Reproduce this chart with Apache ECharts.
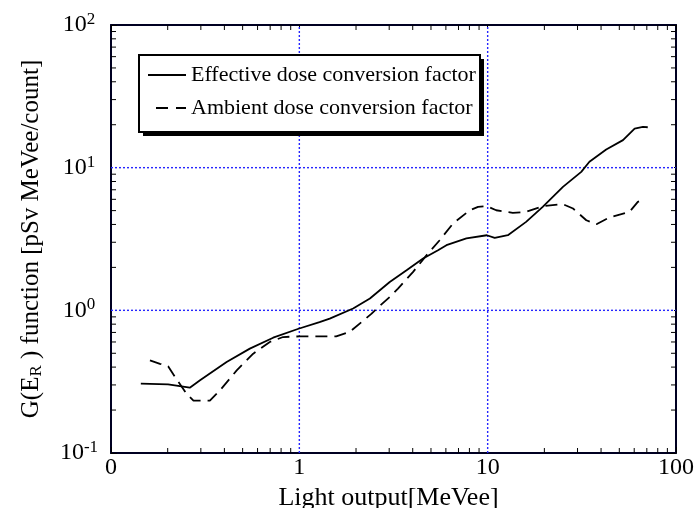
<!DOCTYPE html>
<html><head><meta charset="utf-8">
<script src="https://cdn.jsdelivr.net/npm/echarts@6/dist/echarts.min.js"></script>
<style>html,body{margin:0;padding:0;background:#fff;overflow:hidden}#c{width:698px;height:508px}</style>
</head><body><div id="c"></div>
<script>
// Effective dose conversion factor (solid)
const effX = [0.144, 0.201, 0.232, 0.262, 0.297, 0.411, 0.546, 0.726, 0.99, 1.28, 1.45, 1.93, 2.37, 3.02, 3.71, 4.54, 5.45, 6.04, 7.71, 9.9, 10.9, 12.8, 16.0, 19.6, 25.1, 31.4, 34.7, 42.6, 52.3, 60.3, 66.7, 70.8];
const effY = [0.306, 0.303, 0.294, 0.287, 0.323, 0.434, 0.539, 0.643, 0.743, 0.828, 0.875, 1.03, 1.21, 1.58, 1.91, 2.31, 2.64, 2.86, 3.19, 3.36, 3.22, 3.36, 4.17, 5.31, 7.33, 9.35, 11.0, 13.4, 15.6, 18.8, 19.3, 19.2];
// Ambient dose conversion factor (dashed)
const ambX = [0.161, 0.182, 0.201, 0.219, 0.252, 0.274, 0.335, 0.379, 0.465, 0.569, 0.697, 0.82, 1.0, 1.57, 1.85, 2.42, 2.64, 3.02, 3.34, 4.02, 4.73, 5.56, 6.55, 8.03, 8.89, 9.9, 11.1, 13.6, 16.0, 19.6, 25.1, 28.4, 33.4, 37.8, 44.4, 56.6, 62.7, 68.1];
const ambY = [0.446, 0.422, 0.405, 0.340, 0.260, 0.233, 0.233, 0.275, 0.379, 0.497, 0.600, 0.650, 0.657, 0.657, 0.705, 0.948, 1.06, 1.24, 1.42, 1.86, 2.43, 3.10, 4.06, 5.03, 5.31, 5.37, 5.03, 4.82, 4.90, 5.37, 5.55, 5.17, 4.28, 4.01, 4.48, 4.90, 5.76, 5.98];
const seriesNames = ['Effective dose conversion factor', 'Ambient dose conversion factor'];
// tick values
const xMajor = [0.1, 1, 10, 100];
const xTickLabels = ['0', '1', '10', '100'];
const yMajor = [0.1, 1, 10, 100];
const yExponents = ['-1', '0', '1', '2'];
const xGridVals = [1, 10];
const yGridVals = [1, 10];
const xMinor = [0.2,0.3,0.4,0.5,0.6,0.7,0.8,0.9, 2,3,4,5,6,7,8,9, 20,30,40,50,60,70,80,90];
const yMinor = [0.2,0.3,0.4,0.5,0.6,0.7,0.8,0.9, 2,3,4,5,6,7,8,9, 20,30,40,50,60,70,80,90];

const FONT = '"Liberation Serif", "Times New Roman", serif';
const chart = echarts.init(document.getElementById('c'), null, {renderer: 'canvas', width: 698, height: 508});

const zip = (a, b) => a.map((v, i) => [v, b[i]]);
const idxOf = (arr, v) => arr.findIndex(m => Math.abs(Math.log10(m) - Math.log10(v)) < 1e-6);

const axisCommon = {
  type: 'log', logBase: 10, min: 0.1, max: 100,
  axisLine: {show: true, onZero: false, lineStyle: {color: '#000022', width: 2}},
  axisTick: {show: true, inside: true, length: 6, lineStyle: {color: '#000', width: 1}},
  splitLine: {show: false},
  minorTick: {show: false},
  minorSplitLine: {show: false}
};

// legend box geometry
const LEG = {x: 139, y: 55, w: 341, h: 77, sh: 4};

const option = {
  animation: false,
  backgroundColor: '#fff',
  grid: {left: 111, right: 22, top: 25, bottom: 55, containLabel: false, outerBoundsMode: 'none'},
  graphic: [
    {type: 'rect', z: 50, zlevel: 0, silent: true,
      shape: {x: LEG.x + LEG.sh, y: LEG.y + LEG.sh, width: LEG.w, height: LEG.h},
      style: {fill: '#000'}},
    {type: 'rect', z: 51, zlevel: 0, silent: true,
      shape: {x: LEG.x, y: LEG.y, width: LEG.w, height: LEG.h},
      style: {fill: '#fff', stroke: '#000', lineWidth: 2}}
  ],
  legend: {
    show: true, orient: 'vertical', left: 139, top: 55, z: 60,
    padding: [9, 4, 13, 8], itemGap: 11, itemWidth: 38, itemHeight: 22,
    itemStyle: {opacity: 0},
    textStyle: {fontFamily: FONT, fontSize: 22, color: '#000'},
    data: [
      {name: seriesNames[0], lineStyle: {width: 2, type: 'solid'}},
      {name: seriesNames[1], lineStyle: {width: 2, type: [12, 8], dashOffset: 12}}
    ]
  },
  xAxis: [
    Object.assign({}, axisCommon, {
      position: 'bottom',
      name: 'Light output[MeVee]', nameLocation: 'middle', nameGap: 19,
      nameTextStyle: {fontFamily: FONT, fontSize: 26, color: '#000', padding: [0, 10, 0, 0]},
      axisLabel: {show: true, margin: 3, fontFamily: FONT, fontSize: 24, color: '#000',
        formatter: v => { const i = idxOf(xMajor, v); return i >= 0 ? xTickLabels[i] : ''; }}
    }),
    Object.assign({}, axisCommon, {position: 'top', axisLabel: {show: false}})
  ],
  yAxis: [
    Object.assign({}, axisCommon, {
      position: 'left',
      name: 'G(E{sub|R} ) function [pSv MeVee/count]', nameLocation: 'middle', nameGap: 66,
      nameTextStyle: {fontFamily: FONT, fontSize: 25, color: '#000',
        rich: {sub: {fontFamily: FONT, fontSize: 17, color: '#000', verticalAlign: 'bottom', padding: [10, 0, 0, 0]}}},
      axisLabel: {show: true, margin: 32, align: 'center', fontFamily: FONT, fontSize: 24, color: '#000',
        formatter: v => { const i = idxOf(yMajor, v); return i >= 0 ? '{b|10}{s|' + yExponents[i] + '}' : ''; },
        rich: {
          b: {fontFamily: FONT, fontSize: 24, color: '#000'},
          s: {fontFamily: FONT, fontSize: 17, color: '#000', verticalAlign: 'top', padding: [0, 0, 11, 0]}
        }}
    }),
    Object.assign({}, axisCommon, {position: 'right', axisLabel: {show: false}})
  ],
  series: [
    {
      name: 'gridLines', type: 'custom', xAxisIndex: 0, yAxisIndex: 0, silent: true, z: 10,
      data: [[1, 1]],
      renderItem: function (params, api) {
        const under = [];
        const over = [];
        const stW = {stroke: '#fff', lineWidth: 3};
        const st = {stroke: '#2626ff', lineWidth: 1.4, lineDash: [2, 2]};
        xGridVals.forEach(v => {
          const a = api.coord([v, 0.1]), b = api.coord([v, 100]);
          under.push({type: 'line', shape: {x1: a[0], y1: a[1] - 2, x2: a[0], y2: b[1] + 2}, style: stW});
          over.push({type: 'line', shape: {x1: a[0], y1: a[1], x2: a[0], y2: b[1]}, style: st});
        });
        yGridVals.forEach(v => {
          const a = api.coord([0.1, v]), b = api.coord([100, v]);
          under.push({type: 'line', shape: {x1: a[0] + 2, y1: a[1], x2: b[0] - 2, y2: a[1]}, style: stW});
          over.push({type: 'line', shape: {x1: a[0], y1: a[1], x2: b[0], y2: a[1]}, style: st});
        });
        return {type: 'group', children: under.concat(over)};
      }
    },
    {
      name: seriesNames[0], type: 'line', data: zip(effX, effY), xAxisIndex: 0, yAxisIndex: 0,
      symbol: 'none', smooth: false, z: 12,
      lineStyle: {color: '#000', width: 1.8, type: 'solid'}, itemStyle: {color: '#000'}
    },
    {
      name: seriesNames[1], type: 'line', data: zip(ambX, ambY), xAxisIndex: 0, yAxisIndex: 0,
      symbol: 'none', smooth: false, z: 12,
      lineStyle: {color: '#000', width: 1.8, type: [12, 7]}, itemStyle: {color: '#000'}
    },
    {
      name: 'minorTicks', type: 'custom', xAxisIndex: 0, yAxisIndex: 0, silent: true, z: 12,
      data: [[1, 1]],
      renderItem: function (params, api) {
        const children = [];
        const L = 5;
        const st = {stroke: '#000', lineWidth: 1};
        xMinor.forEach(v => {
          const pb = api.coord([v, 0.1]);
          const pt = api.coord([v, 100]);
          children.push({type: 'line', shape: {x1: pb[0], y1: pb[1], x2: pb[0], y2: pb[1] - L}, style: st});
          children.push({type: 'line', shape: {x1: pt[0], y1: pt[1], x2: pt[0], y2: pt[1] + L}, style: st});
        });
        yMinor.forEach(v => {
          const pl = api.coord([0.1, v]);
          const pr = api.coord([100, v]);
          children.push({type: 'line', shape: {x1: pl[0], y1: pl[1], x2: pl[0] + L, y2: pl[1]}, style: st});
          children.push({type: 'line', shape: {x1: pr[0], y1: pr[1], x2: pr[0] - L, y2: pr[1]}, style: st});
        });
        return {type: 'group', children: children};
      }
    }
  ]
};
chart.setOption(option);
</script>
</body></html>
